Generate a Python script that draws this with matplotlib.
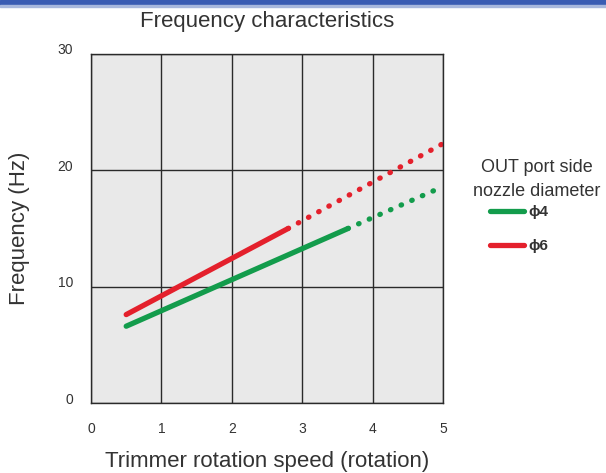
import matplotlib.pyplot as plt
import matplotlib.transforms as mtransforms
from matplotlib.patches import Rectangle

plt.rcParams['font.family'] = ['Liberation Sans', 'DejaVu Sans']

# rotation speed where each line starts, turns dotted, and ends
speed_phi4 = [0.5, 3.65, 5.0]
freq_phi4 = [6.6, 15.0, 18.6]
speed_phi6 = [0.5, 2.8, 5.0]
freq_phi6 = [7.6, 15.0, 22.3]

x_ticks = [0, 1, 2, 3, 4, 5]
y_ticks = [0, 10, 20, 30]

green = '#139c4c'
red = '#e4202c'
text_col = '#333333'

fig = plt.figure(figsize=(6.06, 4.73), dpi=100)
ax = fig.add_axes([91 / 606, 70 / 473, 352 / 606, 349 / 473])
ax.set_facecolor('#e9e9e9')

# blue strip across the top of the page
fig.patches.append(Rectangle((0, 1 - 5 / 473), 1, 5 / 473, transform=fig.transFigure,
                             color='#3a5cb3', zorder=0))
fig.patches.append(Rectangle((0, 1 - 7 / 473), 1, 2 / 473, transform=fig.transFigure,
                             color='#a8b8dd', zorder=0))

ax.set_xlim(0, 5)
ax.set_ylim(0, 30)
ax.set_xticks(x_ticks)
ax.set_yticks(y_ticks)
ax.grid(True, color='#2a2a2a', linewidth=1.0)
ax.set_axisbelow(True)
for s in ax.spines.values():
    s.set_color('#2a2a2a')
    s.set_linewidth(1.0)

ax.tick_params(length=0, labelsize=10, labelcolor=text_col)
ax.tick_params(axis='x', pad=14)
ax.tick_params(axis='y', pad=13)
shift = mtransforms.ScaledTranslation(0, 5 / 100, fig.dpi_scale_trans)
for lbl in ax.get_yticklabels():
    lbl.set_transform(lbl.get_transform() + shift)

lw = 3.8
dots = (0, (0.1, 2.1))

# solid measured part, dotted extrapolated part
ax.plot(speed_phi4[:2], freq_phi4[:2], color=green, lw=lw, solid_capstyle='round', label='ϕ4')
ax.plot(speed_phi4[1:], freq_phi4[1:], color=green, lw=lw, linestyle=dots, dash_capstyle='round')
ax.plot(speed_phi6[:2], freq_phi6[:2], color=red, lw=lw, solid_capstyle='round', label='ϕ6')
ax.plot(speed_phi6[1:], freq_phi6[1:], color=red, lw=lw, linestyle=dots, dash_capstyle='round')

ax.text(0.5, (403 - 22) / 349, 'Frequency characteristics', transform=ax.transAxes,
        ha='center', va='center', fontsize=16, color=text_col)
ax.set_xlabel('Trimmer rotation speed (rotation)', fontsize=16, color=text_col)
ax.xaxis.set_label_coords(0.5, (403 - 461) / 349)
ax.xaxis.label.set_verticalalignment('center')
ax.set_ylabel('Frequency (Hz)', fontsize=16, color=text_col)
ax.yaxis.set_label_coords((19 - 91) / 352, 0.5)
ax.yaxis.label.set_verticalalignment('center')

fig.text(537 / 606, 1 - 167 / 473, 'OUT port side', ha='center', va='center',
         fontsize=13, color=text_col)
fig.text(537 / 606, 1 - 191 / 473, 'nozzle diameter', ha='center', va='center',
         fontsize=13, color=text_col)

leg = ax.legend(loc='upper left', bbox_to_anchor=(490 / 606, 1 - 205 / 473),
                bbox_transform=fig.transFigure, frameon=False, fontsize=11,
                handlelength=2.2, handletextpad=0.3, labelspacing=1.3,
                borderpad=0, borderaxespad=0)
for t in leg.get_texts():
    t.set_color(text_col)
    t.set_fontweight('bold')

fig.savefig('out.png', dpi=100)
